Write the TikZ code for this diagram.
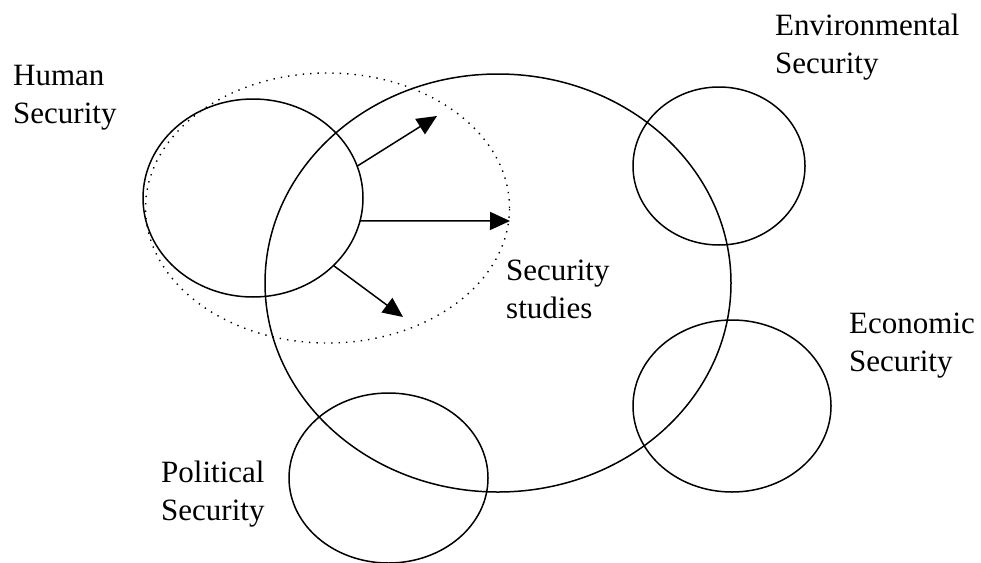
\documentclass[tikz,border=0pt]{standalone}
\usepackage{fontspec}
\setmainfont{Liberation Serif}
\usetikzlibrary{shapes.geometric,arrows.meta}
\begin{document}
\begin{tikzpicture}[x=1pt,y=-1pt,
  ring/.style={draw=black,line width=1.5pt,ellipse,inner sep=0pt,outer sep=0pt},
  dotring/.style={ring,line width=1.4pt,dash pattern=on 1.4pt off 6pt},
  lbl/.style={font=\fontsize{31}{38}\selectfont,align=left,anchor=base west,inner sep=0pt},
  arr/.style={line width=1.5pt,-{Triangle[length=20pt,width=18pt]}}]
\useasboundingbox[fill=white] (0,0) rectangle (981,562);
% circles
\node[dotring,minimum width=364pt,minimum height=270pt] (dot) at (327.5,208) {};
\node[ring,minimum width=466pt,minimum height=418pt] (ss) at (498,283) {};
\node[ring,minimum width=220pt,minimum height=198pt] (hs) at (253,198) {};
\node[ring,minimum width=172pt,minimum height=158pt] (env) at (719,166) {};
\node[ring,minimum width=198pt,minimum height=172pt] (eco) at (732,406) {};
\node[ring,minimum width=199pt,minimum height=170pt] (pol) at (388.5,478) {};
% arrow tips
\coordinate (t1) at (437,116);
\coordinate (t2) at (510,221);
\coordinate (t3) at (403,317);
\draw[arr] (hs.17) -- (t1);
\draw[arr] (hs.-12) -- (t2);
\draw[arr] (hs.-40) -- (t3);
% labels (anchored at the baseline of the last line)
\node[lbl] (lhs) at (13,123) {Human\\Security};
\node[lbl] (lenv) at (775,73) {Environmental\\Security};
\node[lbl] (lss) at (506,318) {Security\\studies};
\node[lbl] (leco) at (849,371) {Economic\\Security};
\node[lbl] (lpol) at (161,520) {Political\\Security};
\end{tikzpicture}
\end{document}
